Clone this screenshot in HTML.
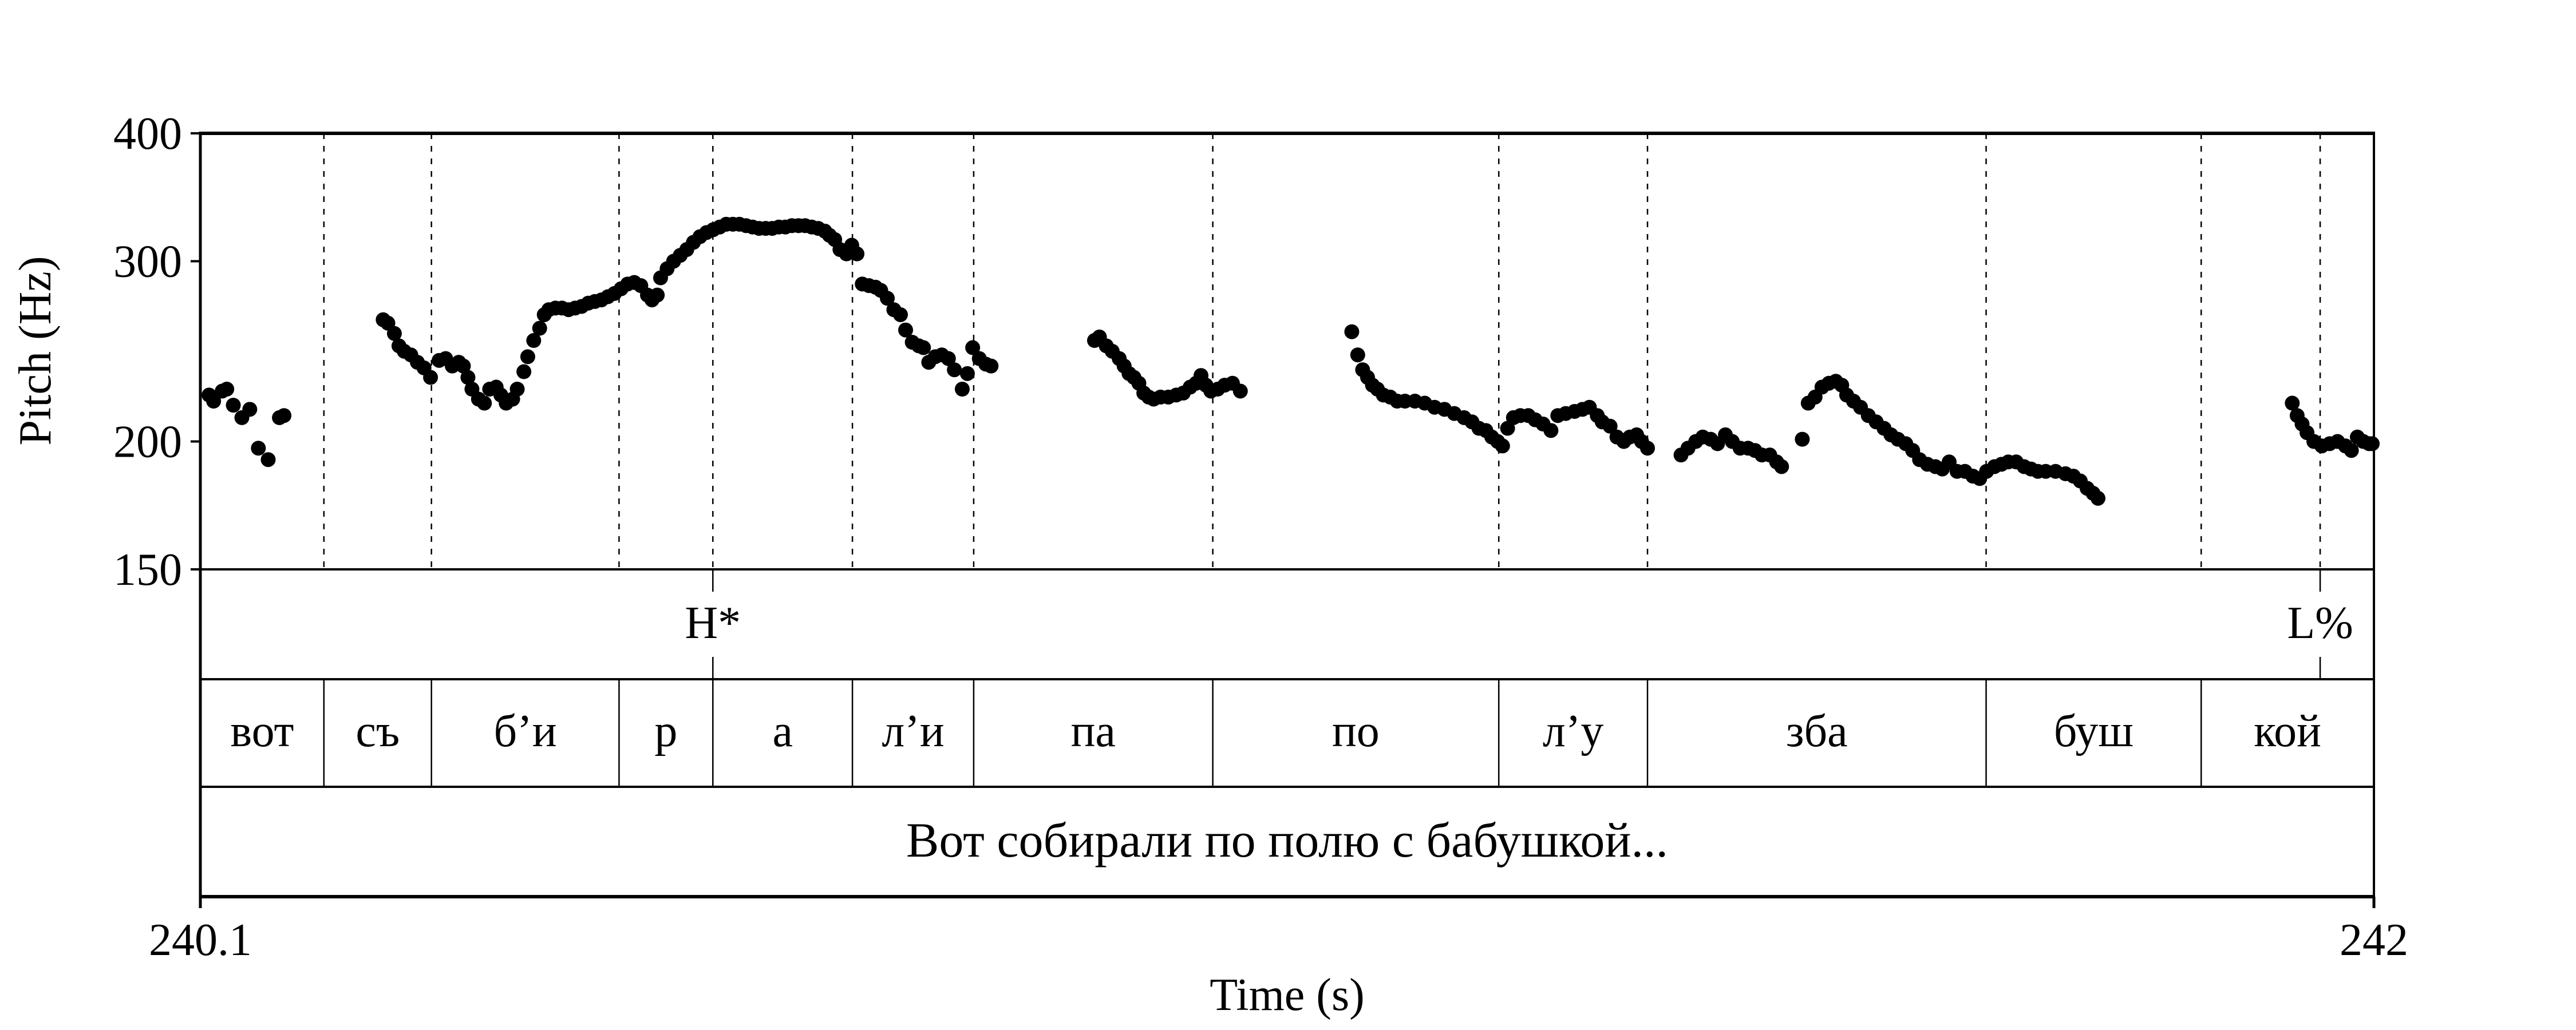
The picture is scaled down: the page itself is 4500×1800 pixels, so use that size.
<!DOCTYPE html>
<html><head><meta charset="utf-8"><style>
html,body{margin:0;padding:0;background:#fff;}
svg{display:block;font-family:"Liberation Serif","DejaVu Serif",serif;}
</style></head><body>
<svg id="chart" xmlns="http://www.w3.org/2000/svg" width="4500" height="1800" viewBox="0 0 4500 1800">
<rect x="0" y="0" width="4500" height="1800" fill="#fff"/>
<g id="grid"></g>
<g id="dots"></g>
<g id="frame"></g>
<g id="labels" font-family="Liberation Serif, serif"></g>
</svg>
<script>
const pitchTimes=[240.1076,240.1116,240.1191,240.1231,240.1288,240.1363,240.1432,240.1507,240.1593,240.1691,240.1731,
240.2598,240.2639,240.2696,240.2736,240.2782,240.2840,240.2897,240.2955,240.3012,240.3087,240.3144,240.3202,240.3259,240.3299,240.3339,240.3374,240.3431,240.3483,240.3529,240.3586,240.3627,240.3673,240.3730,240.3770,240.3828,240.3862,240.3914,240.3966,240.4006,240.4046,240.4104,240.4161,240.4219,240.4276,240.4333,240.4391,240.4448,240.4506,240.4563,240.4620,240.4678,240.4735,240.4793,240.4850,240.4908,240.4948,240.4994,240.5023,240.5080,240.5137,240.5195,240.5252,240.5310,240.5367,240.5425,240.5482,240.5540,240.5597,240.5655,240.5712,240.5770,240.5827,240.5884,240.5942,240.5999,240.6057,240.6114,240.6171,240.6229,240.6286,240.6344,240.6401,240.6459,240.6499,240.6545,240.6591,240.6648,240.6694,240.6740,
240.6786,240.6844,240.6901,240.6947,240.7005,240.7062,240.7120,240.7165,240.7223,240.7280,240.7321,240.7367,240.7424,240.7481,240.7539,240.7591,240.7660,240.7705,240.7751,240.7809,240.7866,240.7912,
240.8816,240.8859,240.8919,240.8971,240.9032,240.9075,240.9118,240.9161,240.9204,240.9247,240.9290,240.9333,240.9393,240.9462,240.9531,240.9592,240.9652,240.9704,240.9747,240.9790,240.9833,240.9893,240.9954,241.0022,241.0091,
241.1065,241.1117,241.1160,241.1203,241.1246,241.1289,241.1341,241.1401,241.1462,241.1530,241.1617,241.1703,241.1789,241.1875,241.1961,241.2047,241.2116,241.2177,241.2237,241.2289,241.2340,241.2383,
241.2427,241.2478,241.2539,241.2608,241.2668,241.2737,241.2806,241.2866,241.2935,241.3013,241.3082,241.3142,241.3211,241.3254,241.3323,241.3383,241.3443,241.3495,241.3555,241.3598,241.3650,
241.3943,241.4004,241.4072,241.4133,241.4202,241.4262,241.4331,241.4391,241.4460,241.4529,241.4589,241.4650,241.4719,241.4779,241.4822,
241.5003,241.5055,241.5115,241.5175,241.5236,241.5296,241.5348,241.5391,241.5451,241.5512,241.5580,241.5649,241.5718,241.5778,241.5839,241.5908,241.5968,241.6028,241.6097,241.6167,241.6227,241.6287,241.6356,241.6425,241.6494,241.6554,241.6614,241.6683,241.6744,241.6804,241.6873,241.6942,241.7002,241.7063,241.7131,241.7217,241.7304,241.7373,241.7433,241.7493,241.7545,241.7588,
241.9286,241.9329,241.9372,241.9415,241.9475,241.9544,241.9613,241.9682,241.9751,241.9803,241.9855,241.9907,241.9958,241.9985];
const pitchHz=[222,219,224,225,217,211,215,197,192,211,212,
263,261,255,248,245,243,239,236,231,240,241,237,239,237,231,225,220,218,225,226,222,218,220,225,234,242,251,258,266,269,270,270,269,270,271,273,274,275,277,279,282,285,286,284,278,275,278,289,295,300,304,308,313,317,320,322,324,326,326,326,325,324,323,323,323,324,324,325,325,325,324,323,321,318,315,308,305,311,305,
285,284,283,281,276,269,266,257,250,248,247,239,242,243,241,235,225,233,247,241,238,237,
251,253,248,245,241,237,233,231,228,223,221,220,221,221,222,223,226,228,232,227,224,225,227,228,224,
256,243,235,231,227,225,222,221,219,219,219,218,216,215,213,211,209,206,205,202,200,198,
206,211,212,212,210,208,205,212,213,214,215,216,212,209,207,202,200,202,203,200,197,
194,197,200,202,201,199,203,200,197,197,196,194,194,191,189,
201,218,221,226,228,229,227,222,219,216,212,209,206,203,201,199,196,192,190,189,188,191,187,187,185,184,187,189,190,191,191,189,188,187,187,187,186,185,183,180,178,176,
218,212,208,204,200,198,199,200,198,196,202,200,199,199];
const yTicks=[150,200,300,400];
const yTickLabels=["150","200","300","400"];
const sylBounds=[240.1,240.208,240.302,240.466,240.548,240.670,240.776,240.985,241.235,241.365,241.661,241.849,242.0];
const sylLabels=["вот","съ","б’и","р","а","л’и","па","по","л’у","зба","буш","кой"];
const toneTimes=[240.548,241.953];
const toneLabels=["H*","L%"];
const sentence="Вот собирали по полю с бабушкой...";
const xTickLabels=["240.1","242"];
const xTickVals=[240.1,242];

const NS="http://www.w3.org/2000/svg";
const L=350,R=4147,T=233,B=995,T1=1187,T2=1375,BB=1567;
const tMin=240.1,tMax=242,hMin=150,hMax=400;
const xs=t=>L+(t-tMin)/(tMax-tMin)*(R-L);
const ys=h=>B-Math.log(h/hMin)/Math.log(hMax/hMin)*(B-T);
function mk(tag,attrs,parent){const e=document.createElementNS(NS,tag);for(const k in attrs)e.setAttribute(k,attrs[k]);parent.appendChild(e);return e;}
const grid=document.getElementById('grid'),dots=document.getElementById('dots'),frame=document.getElementById('frame'),labels=document.getElementById('labels');
const FF='"Liberation Serif", "DejaVu Serif", serif';

const dashTimes=sylBounds.slice(1,-1).concat([toneTimes[1]]);
dashTimes.forEach(t=>{const l=mk('line',{x1:xs(t),x2:xs(t),y1:T,y2:B,stroke:'#000','stroke-width':2.5,'stroke-dasharray':'10 12'},grid);

});

pitchTimes.forEach((t,i)=>{const c=mk('circle',{cx:xs(t),cy:ys(pitchHz[i]),r:13,fill:'#000'},dots);

});

[[T,6],[B,4],[T1,4],[T2,4],[BB,6]].forEach(([y,w])=>{const l=mk('line',{x1:L,x2:R,y1:y,y2:y,stroke:'#000','stroke-width':w},frame);

});
const la=mk('line',{x1:L,x2:L,y1:T-3,y2:BB+20,stroke:'#000','stroke-width':5},frame);


const ra=mk('line',{x1:R,x2:R,y1:T-3,y2:BB+20,stroke:'#000','stroke-width':4},frame);


sylBounds.slice(1,-1).forEach(t=>{const l=mk('line',{x1:xs(t),x2:xs(t),y1:T1,y2:T2,stroke:'#000','stroke-width':2.5},frame);

});
toneTimes.forEach(t=>{const a=mk('line',{x1:xs(t),x2:xs(t),y1:B,y2:B+39,stroke:'#000','stroke-width':2.5},frame);


const b=mk('line',{x1:xs(t),x2:xs(t),y1:T1-39,y2:T1,stroke:'#000','stroke-width':2.5},frame);

});

yTicks.forEach((h,i)=>{const l=mk('line',{x1:L-17,x2:L,y1:ys(h),y2:ys(h),stroke:'#000','stroke-width':4},frame);


const tx=mk('text',{x:L-32,y:ys(h)+27,'text-anchor':'end','font-size':80,'font-family':FF},labels);tx.textContent=yTickLabels[i];

});
xTickVals.forEach((t,i)=>{const l=mk('line',{x1:xs(t),x2:xs(t),y1:BB,y2:BB+20,stroke:'#000','stroke-width':5},frame);


const tx=mk('text',{x:xs(t),y:1669,'text-anchor':'middle','font-size':80,'font-family':FF},labels);tx.textContent=xTickLabels[i];

});
toneTimes.forEach((t,i)=>{const tx=mk('text',{x:xs(t),y:1115,'text-anchor':'middle','font-size':80,'font-family':FF},labels);tx.textContent=toneLabels[i];

});
sylLabels.forEach((s,i)=>{const tx=mk('text',{x:(xs(sylBounds[i])+xs(sylBounds[i+1]))/2,y:1304,'text-anchor':'middle','font-size':80,'font-family':FF},labels);tx.textContent=s;

});
const st=mk('text',{x:(L+R)/2,y:1497,'text-anchor':'middle','font-size':86,'font-family':FF},labels);st.textContent=sentence;


const xt=mk('text',{x:(L+R)/2,y:1765,'text-anchor':'middle','font-size':80,'font-family':FF},labels);xt.textContent="Time (s)";


const yt=mk('text',{x:0,y:0,'text-anchor':'middle','font-size':80,'font-family':FF,transform:'translate(88,613) rotate(-90)'},labels);yt.textContent="Pitch (Hz)";


</script>
</body></html>
